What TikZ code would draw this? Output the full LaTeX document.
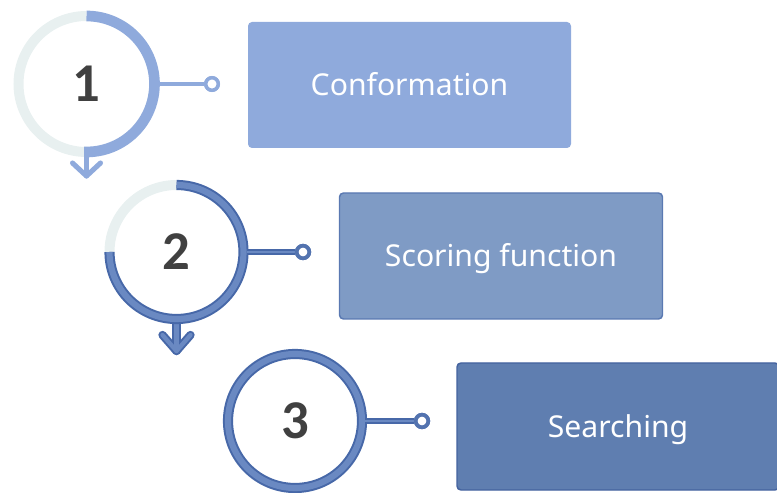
\documentclass[tikz,border=0pt]{standalone}
\usepackage{fontspec}
\setmainfont{Noto Sans}
\newfontfamily\numfont{Carlito}
\definecolor{cA}{HTML}{8FAADC}
\definecolor{cGray}{HTML}{E8F0F0}
\definecolor{cBdark}{HTML}{4768A8}
\definecolor{cBlight}{HTML}{6A89C2}
\definecolor{cBmid}{HTML}{5373AF}
\definecolor{cBox2}{HTML}{7F9BC5}
\definecolor{cBoxTwoB}{HTML}{5A79B2}
\definecolor{cBox3}{HTML}{5F7EB0}
\definecolor{cBoxThreeB}{HTML}{44639F}
\definecolor{cNum}{HTML}{404040}
\begin{document}
\begin{tikzpicture}[x=0.75pt,y=0.75pt,
  num/.style={circle, inner sep=0pt, minimum size=75pt, text=cNum,
    font=\numfont\bfseries\fontsize{41}{41}\selectfont},
  box/.style={rounded corners=3pt, minimum width=242.25pt, minimum height=94.5pt,
    text=white, text height=16.1pt, text depth=0pt, font=\fontsize{22.6}{27}\selectfont},
  dotA/.style={circle, inner sep=0pt, minimum size=9.4pt, fill=white, draw=cA, line width=2.6pt},
  dotB/.style={circle, inner sep=0pt, minimum size=9.4pt, fill=white, draw=cBmid, line width=2.8pt},
  grayring/.style={cGray, line width=7.5pt},
  ringA/.style={cA, line width=8pt},
  dblring/.style={draw=cBdark, double=cBlight, line width=1.5pt, double distance=4.6pt},
  linkA/.style={cA, line width=2.3pt},
  darkpass/.style={cBdark, line width=#1, line cap=round, line join=round},
  lightpass/.style={cBlight, line width=#1, line cap=round, line join=round}
]
\useasboundingbox (0,0) rectangle (777,492);

% ---------- step 1 ----------
\node[num] (c1) at (86.5,408) {1};
\draw[grayring] (c1.center) ++(90:68) arc[start angle=90, end angle=270, radius=68];
\draw[ringA] (c1.center) ++(90:68) arc[start angle=90, end angle=-92, radius=68];
\coordinate (c1b) at ([yshift=-68*0.75pt]c1.center);
\coordinate (a1) at ([yshift=-92*0.75pt]c1.center);
\draw[cA, line width=3.8pt, line cap=round] (c1b) -- (a1);
\draw[cA, line width=3.8pt, line cap=round, line join=round]
  ([xshift=-14*0.75pt, yshift=13*0.75pt]a1) -- (a1) -- ([xshift=14*0.75pt, yshift=13*0.75pt]a1);
\node[box, fill=cA] (b1) at (409.5,407) {Conformation};
\node[dotA] (e1) at (212,408) {};
\coordinate (r1) at ([xshift=72*0.75pt]c1.center);
\draw[linkA] (r1) -- (e1.west);
\node[dotA] at (e1) {};

% ---------- step 2 ----------
\node[num] (c2) at (176.5,240) {2};
\draw[grayring] (c2.center) ++(90:67) arc[start angle=90, end angle=180, radius=67];
\coordinate (c2b) at ([yshift=-67*0.75pt]c2.center);
\coordinate (a2) at ([yshift=-99*0.75pt]c2.center);
\draw[darkpass=6.2pt] (c2b) -- (a2);
\draw[darkpass=6.2pt] ([xshift=-14*0.75pt, yshift=16*0.75pt]a2) -- (a2) -- ([xshift=14*0.75pt, yshift=16*0.75pt]a2);
\draw[lightpass=3.2pt] (c2b) -- (a2);
\draw[lightpass=3.2pt] ([xshift=-14*0.75pt, yshift=16*0.75pt]a2) -- (a2) -- ([xshift=14*0.75pt, yshift=16*0.75pt]a2);
\draw[dblring] (c2.center) ++(90:67) arc[start angle=90, end angle=-180, radius=67];
\node[box, fill=cBox2, draw=cBoxTwoB, line width=1.1pt] (b2) at (501,236) {Scoring function};
\node[dotB] (e2) at (303,240) {};
\coordinate (r2) at ([xshift=70*0.75pt]c2.center);
\draw[darkpass=4.6pt, line cap=butt] (r2) -- (e2.west);
\draw[lightpass=2pt, line cap=butt] (r2) -- (e2.west);
\node[dotB] at (e2) {};

% ---------- step 3 ----------
\node[num] (c3) at (295,71) {3};
\draw[dblring] (c3.center) circle[radius=67];
\node[box, fill=cBox3, draw=cBoxThreeB, line width=1.1pt, minimum width=241.5pt, minimum height=95.25pt] (b3) at (618,65.5) {Searching};
\node[dotB] (e3) at (422,71) {};
\coordinate (r3) at ([xshift=70*0.75pt]c3.center);
\draw[darkpass=4.6pt, line cap=butt] (r3) -- (e3.west);
\draw[lightpass=2pt, line cap=butt] (r3) -- (e3.west);
\node[dotB] at (e3) {};
\end{tikzpicture}
\end{document}
